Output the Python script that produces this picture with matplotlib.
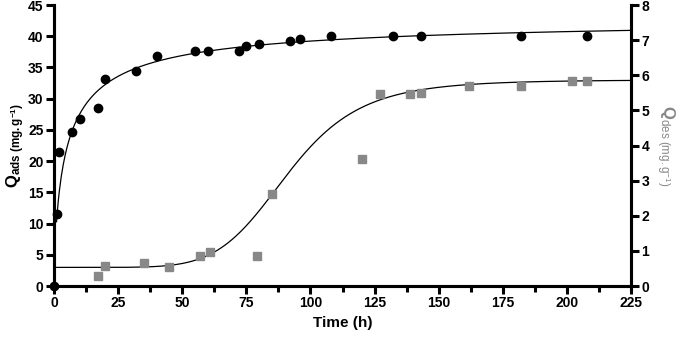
import numpy as np
import matplotlib.pyplot as plt
from matplotlib.ticker import MultipleLocator

plt.rcParams['font.family'] = ['Liberation Sans', 'DejaVu Sans']
plt.rcParams['mathtext.fontset'] = 'custom'
plt.rcParams['mathtext.rm'] = 'Liberation Sans'
plt.rcParams['mathtext.bf'] = 'Liberation Sans:bold'
plt.rcParams['mathtext.it'] = 'Liberation Sans:italic'

# adsorption data (left axis)
t_ads = [0, 1, 2, 7, 10, 17, 20, 32, 40, 55, 60, 72, 75, 80, 92, 96, 108, 132, 143, 182, 208]
q_ads = [0, 11.5, 21.5, 24.6, 26.8, 28.5, 33.2, 34.5, 36.8, 37.7, 37.7, 37.7, 38.4, 38.8,
         39.3, 39.6, 40.0, 40.0, 40.1, 40.0, 40.0]

# desorption data (right axis)
t_des = [17, 20, 35, 45, 57, 61, 79, 85, 120, 127, 139, 143, 162, 182, 202, 208]
q_des = [0.28, 0.56, 0.65, 0.53, 0.85, 0.98, 0.85, 2.61, 3.63, 5.46, 5.46, 5.50,
         5.70, 5.70, 5.83, 5.83]

# fitted model parameters
ads_qmax, ads_k, ads_n = 43.2, 3.2, 0.75          # Sips-type kinetic fit
des_bottom, des_top, des_ec50, des_hill = 0.53, 5.87, 91.2, 6.4   # sigmoidal fit

fig = plt.figure(figsize=(6.85, 3.37), dpi=100)
ax = fig.add_axes([0.0788, 0.1513, 0.8424, 0.8337])
ax2 = ax.twinx()

tt = np.linspace(1, 225, 600)
ax.plot(tt, ads_qmax * tt**ads_n / (ads_k + tt**ads_n), color='black', lw=0.9, zorder=2)
ax.plot(t_ads, q_ads, 'o', color='black', ms=6, clip_on=False, zorder=3)

td = np.linspace(0, 225, 600)
ax2.plot(td, des_bottom + (des_top - des_bottom) * td**des_hill / (des_ec50**des_hill + td**des_hill),
         color='black', lw=0.9, zorder=2)
ax2.plot(t_des, q_des, 's', color='#888888', ms=5.5, clip_on=False, zorder=3)

ax.set_xlim(0, 225)
ax.set_ylim(0, 45)
ax2.set_ylim(0, 8)
ax.xaxis.set_major_locator(MultipleLocator(25))
ax.xaxis.set_minor_locator(MultipleLocator(12.5))
ax.yaxis.set_major_locator(MultipleLocator(5))
ax2.yaxis.set_major_locator(MultipleLocator(1))

for a in (ax, ax2):
    for s in a.spines.values():
        s.set_linewidth(2.2)
    a.spines['top'].set_visible(False)
    a.tick_params(which='major', length=6, width=2.2, labelsize=10, pad=1.5)
    a.tick_params(which='minor', length=4, width=2.2)
    for lab in a.get_xticklabels() + a.get_yticklabels():
        lab.set_fontweight('bold')

ax.set_xlabel('Time (h)', fontsize=11, fontweight='bold', labelpad=4)
ax.set_ylabel(r'$\mathbf{Q_{ads\ (mg.g^{-1})}}$', fontsize=12, labelpad=1)
ax2.set_ylabel(r'$\mathbf{Q}_{\mathrm{des\ (mg.g^{-1})}}$', fontsize=12, color='#888888',
               rotation=270, labelpad=20)

fig.savefig('out.png', dpi=100)
